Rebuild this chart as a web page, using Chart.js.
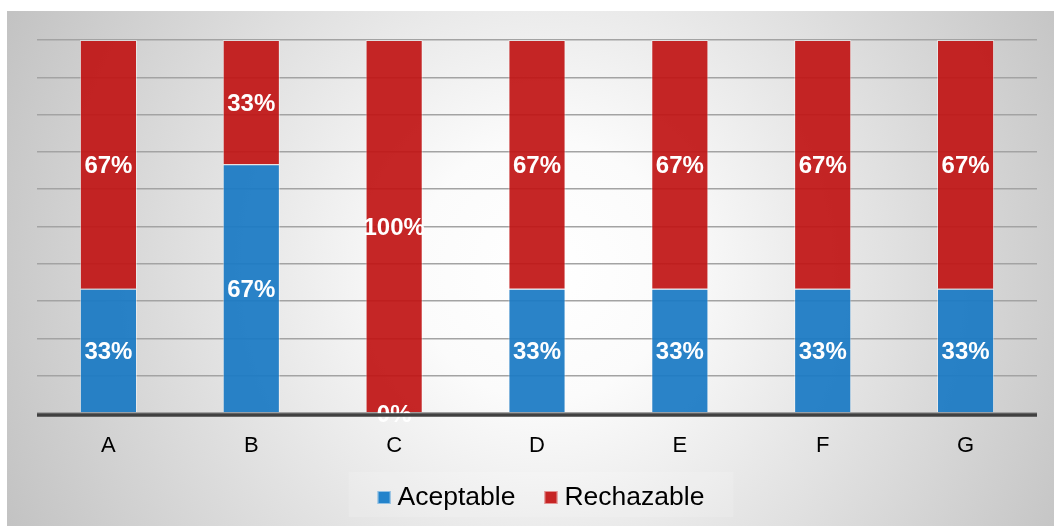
<!DOCTYPE html>
<html>
<head>
<meta charset="utf-8">
<script src="https://cdn.jsdelivr.net/npm/chart.js@4.4.1/dist/chart.umd.min.js"></script>
<style>
  body { margin: 0; background: #fff; }
  #wrap { width: 1054px; height: 526px; }
</style>
</head>
<body>
<div id="wrap"><canvas id="grafico" width="1054" height="526"></canvas></div>
<script>
const categorias = ['A', 'B', 'C', 'D', 'E', 'F', 'G'];
const aceptable = [33.33, 66.67, 0, 33.33, 33.33, 33.33, 33.33];
const rechazable = [66.67, 33.33, 100, 66.67, 66.67, 66.67, 66.67];
const etiquetasY = [0, 10, 20, 30, 40, 50, 60, 70, 80, 90, 100];

const fuente = '"Liberation Sans", Arial, sans-serif';

const fondo = {
    id: 'fondo',
    beforeDraw(chart) {
        const ctx = chart.ctx;
        ctx.save();
        const g = ctx.createRadialGradient(545, 270, 0, 545, 270, 650);
        g.addColorStop(0, '#ffffff');
        g.addColorStop(0.2, '#fbfbfb');
        g.addColorStop(1, '#bcbcbc');
        ctx.fillStyle = g;
        ctx.fillRect(7, 11, chart.width - 7, chart.height - 11);
        ctx.restore();
    }
};

const etiquetas = {
    id: 'etiquetas',
    afterDatasetsDraw(chart) {
        const ctx = chart.ctx;
        ctx.save();
        ctx.font = 'bold 24px ' + fuente;
        ctx.fillStyle = '#ffffff';
        ctx.textAlign = 'center';
        ctx.textBaseline = 'middle';
        chart.data.datasets.forEach(function (ds, i) {
            chart.getDatasetMeta(i).data.forEach(function (bar, j) {
                const p = bar.getProps(['x', 'y', 'base'], true);
                ctx.fillText(Math.round(ds.data[j]) + '%', p.x, (p.y + p.base) / 2 + 2);
            });
        });
        // linea base
        const y0 = chart.scales.y.getPixelForValue(0);
        ctx.strokeStyle = '#404040';
        ctx.lineWidth = 3.6;
        ctx.beginPath();
        ctx.moveTo(chart.chartArea.left, y0 + 2);
        ctx.lineTo(chart.chartArea.right, y0 + 2);
        ctx.stroke();
        ctx.restore();
    }
};

// leyenda dibujada a mano para acercar la caja al texto
const leyenda = {
    id: 'leyenda',
    afterDraw(chart) {
        const ctx = chart.ctx;
        const ca = chart.chartArea;
        ctx.save();
        ctx.font = '26.5px ' + fuente;
        const items = chart.data.datasets.map(ds => ({
            texto: ds.label,
            color: ds.legendColor,
            ancho: 13 + 7 + ctx.measureText(ds.label).width
        }));
        const sep = 29;
        const total = items.reduce((s, it) => s + it.ancho, 0) + sep * (items.length - 1);
        const cx = (ca.left + ca.right) / 2 + 4;
        const yc = ca.bottom + 84;
        ctx.fillStyle = 'rgba(255,255,255,0.15)';
        ctx.fillRect(cx - total / 2 - 29, yc - 25, total + 58, 45);
        let x = cx - total / 2;
        items.forEach(function (it) {
            ctx.fillStyle = it.color;
            ctx.fillRect(x, yc - 6, 13, 13);
            ctx.strokeStyle = 'rgba(255,255,255,0.5)';
            ctx.lineWidth = 1;
            ctx.strokeRect(x + 0.5, yc - 5.5, 12, 12);
            ctx.fillStyle = '#000';
            ctx.textAlign = 'left';
            ctx.textBaseline = 'alphabetic';
            ctx.fillText(it.texto, x + 20, yc + 8);
            x += it.ancho + sep;
        });
        ctx.restore();
    }
};

new Chart('grafico', {
    type: 'bar',
    data: {
        labels: categorias,
        datasets: [{
            label: 'Aceptable',
            data: aceptable,
            backgroundColor: 'rgba(26,122,196,0.93)',
            legendColor: '#2383cb',
            borderColor: 'rgba(255,255,255,0.45)',
            borderWidth: 1
        }, {
            label: 'Rechazable',
            data: rechazable,
            backgroundColor: 'rgba(192,20,20,0.92)',
            legendColor: '#c62424',
            borderColor: 'rgba(255,255,255,0.45)',
            borderWidth: 1
        }]
    },
    options: {
        responsive: false,
        animation: false,
        layout: { padding: { left: 37, right: 17, top: 40, bottom: 46.6 } },
        scales: {
            x: {
                stacked: true,
                grid: { display: false, drawTicks: false },
                border: { display: false },
                ticks: {
                    color: '#000',
                    padding: 20,
                    font: { family: fuente, size: 22 }
                }
            },
            y: {
                stacked: true,
                min: 0,
                max: 100,
                afterBuildTicks(scale) {
                    scale.ticks = etiquetasY.map(v => ({ value: v }));
                },
                ticks: { display: false },
                grid: { color: '#a3a3a3', lineWidth: 1.5, drawTicks: false },
                border: { display: false }
            }
        },
        categoryPercentage: 1,
        barPercentage: 0.4,
        plugins: {
            legend: { display: false },
            tooltip: { enabled: false }
        }
    },
    plugins: [fondo, etiquetas, leyenda]
});
</script>
</body>
</html>
